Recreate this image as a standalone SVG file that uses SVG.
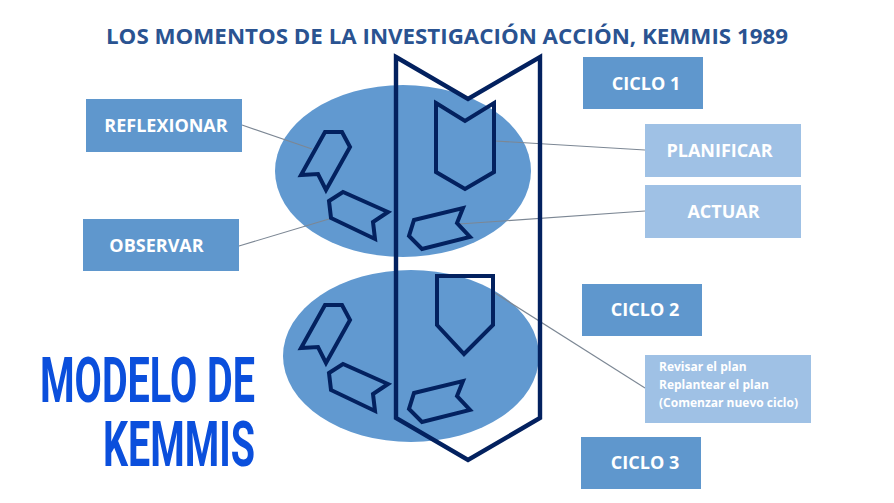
<svg xmlns="http://www.w3.org/2000/svg" width="894" height="503" viewBox="0 0 894 503">
<style>
.bg{fill:#fff}
.el{fill:#6199d0}
.mid{fill:#5f97cd}
.light{fill:#9fc1e5}
.sh{fill:none;stroke:#03215f;stroke-width:4;stroke-miterlimit:10}
.big{fill:none;stroke:#03215f;stroke-width:4.4;stroke-miterlimit:10}
.ln{fill:none;stroke:#7c8794;stroke-width:1.1}
.t{font-family:"Open Sans","Liberation Sans",sans-serif;font-weight:700;fill:#fff;font-size:18px;text-anchor:middle}
.s{font-family:"Open Sans","Liberation Sans",sans-serif;font-weight:700;fill:#fff;font-size:12px}
.h{font-family:"Open Sans","Liberation Sans",sans-serif;font-weight:700;fill:#2a5391;font-size:22px}
.m{font-family:Roboto,"Liberation Sans",sans-serif;font-weight:700;fill:#0b4fdc;font-size:63px}
</style>
<rect class="bg" width="894" height="503"/>
<g id="ellipses">
<ellipse class="el" cx="403" cy="171" rx="128" ry="86"/>
<ellipse class="el" cx="411" cy="356" rx="128" ry="86"/>
</g>
<g id="connectors">
<path class="ln" d="M242 125L312 149"/>
<path class="ln" d="M239 246L329 219"/>
<path class="ln" d="M495 141L645 150"/>
<path class="ln" d="M459 224L645 211"/>
<path class="ln" d="M495 293L645 388"/>
</g>
<g id="flecha-grande"><path class="big" d="M396 57L468 99L540 57V418L468 460L396 418Z"/></g>
<g id="planificar-forma"><path class="sh" d="M436 103L465 121L494 103V172L465 189L436 172Z"/></g>
<g id="reflexionar-forma"><path class="sh" d="M325 132H342L350 147L326 190L318 174L301 175Z"/></g>
<g id="observar-forma"><path class="sh" d="M329 201L343 192L388 212L373 222L375 239L331 218Z"/></g>
<g id="actuar-forma"><path class="sh" d="M463 208L457 223L470 237L422 249L409 236L414 220Z"/></g>
<g id="revisar-forma"><path class="sh" d="M437 276H493V325L464 354L437 325Z"/></g>
<g id="reflexionar-forma-2"><path class="sh" d="M325 305H342L350 320L326 363L318 347L301 348Z"/></g>
<g id="observar-forma-2"><path class="sh" d="M329 373L343 364L388 384L373 394L375 411L331 390Z"/></g>
<g id="actuar-forma-2"><path class="sh" d="M463 381L457 396L470 410L422 422L409 409L414 393Z"/></g>
<g id="titulo"><text class="h" x="106" y="44" textLength="682" lengthAdjust="spacingAndGlyphs">LOS MOMENTOS DE LA INVESTIGACIÓN ACCIÓN, KEMMIS 1989</text></g>
<g id="reflexionar"><rect class="mid" x="86" y="99" width="156" height="53"/><text class="t" x="166" y="132">REFLEXIONAR</text></g>
<g id="observar"><rect class="mid" x="83" y="219" width="156" height="52"/><text class="t" x="156.500" y="252">OBSERVAR</text></g>
<g id="ciclo1"><rect class="mid" x="583" y="57" width="120" height="52"/><text class="t" x="646" y="90">CICLO 1</text></g>
<g id="planificar"><rect class="light" x="645" y="124" width="156" height="53"/><text class="t" x="719.500" y="157">PLANIFICAR</text></g>
<g id="actuar"><rect class="light" x="645" y="185" width="156" height="53"/><text class="t" x="723.500" y="218">ACTUAR</text></g>
<g id="ciclo2"><rect class="mid" x="582" y="284" width="120" height="52"/><text class="t" x="645" y="316">CICLO 2</text></g>
<g id="revisar"><rect class="light" x="645" y="355" width="166" height="68"/>
<text class="s" x="659" y="371">Revisar el plan</text>
<text class="s" x="659" y="389">Replantear el plan</text>
<text class="s" x="659" y="407">(Comenzar nuevo ciclo)</text></g>
<g id="ciclo3"><rect class="mid" x="581" y="437" width="120" height="52"/><text class="t" x="645" y="469">CICLO 3</text></g>
<g id="modelo">
<text class="m" x="40" y="402" textLength="215" lengthAdjust="spacingAndGlyphs">MODELO DE</text>
<text class="m" x="103" y="466" textLength="152" lengthAdjust="spacingAndGlyphs">KEMMIS</text>
</g>
</svg>
